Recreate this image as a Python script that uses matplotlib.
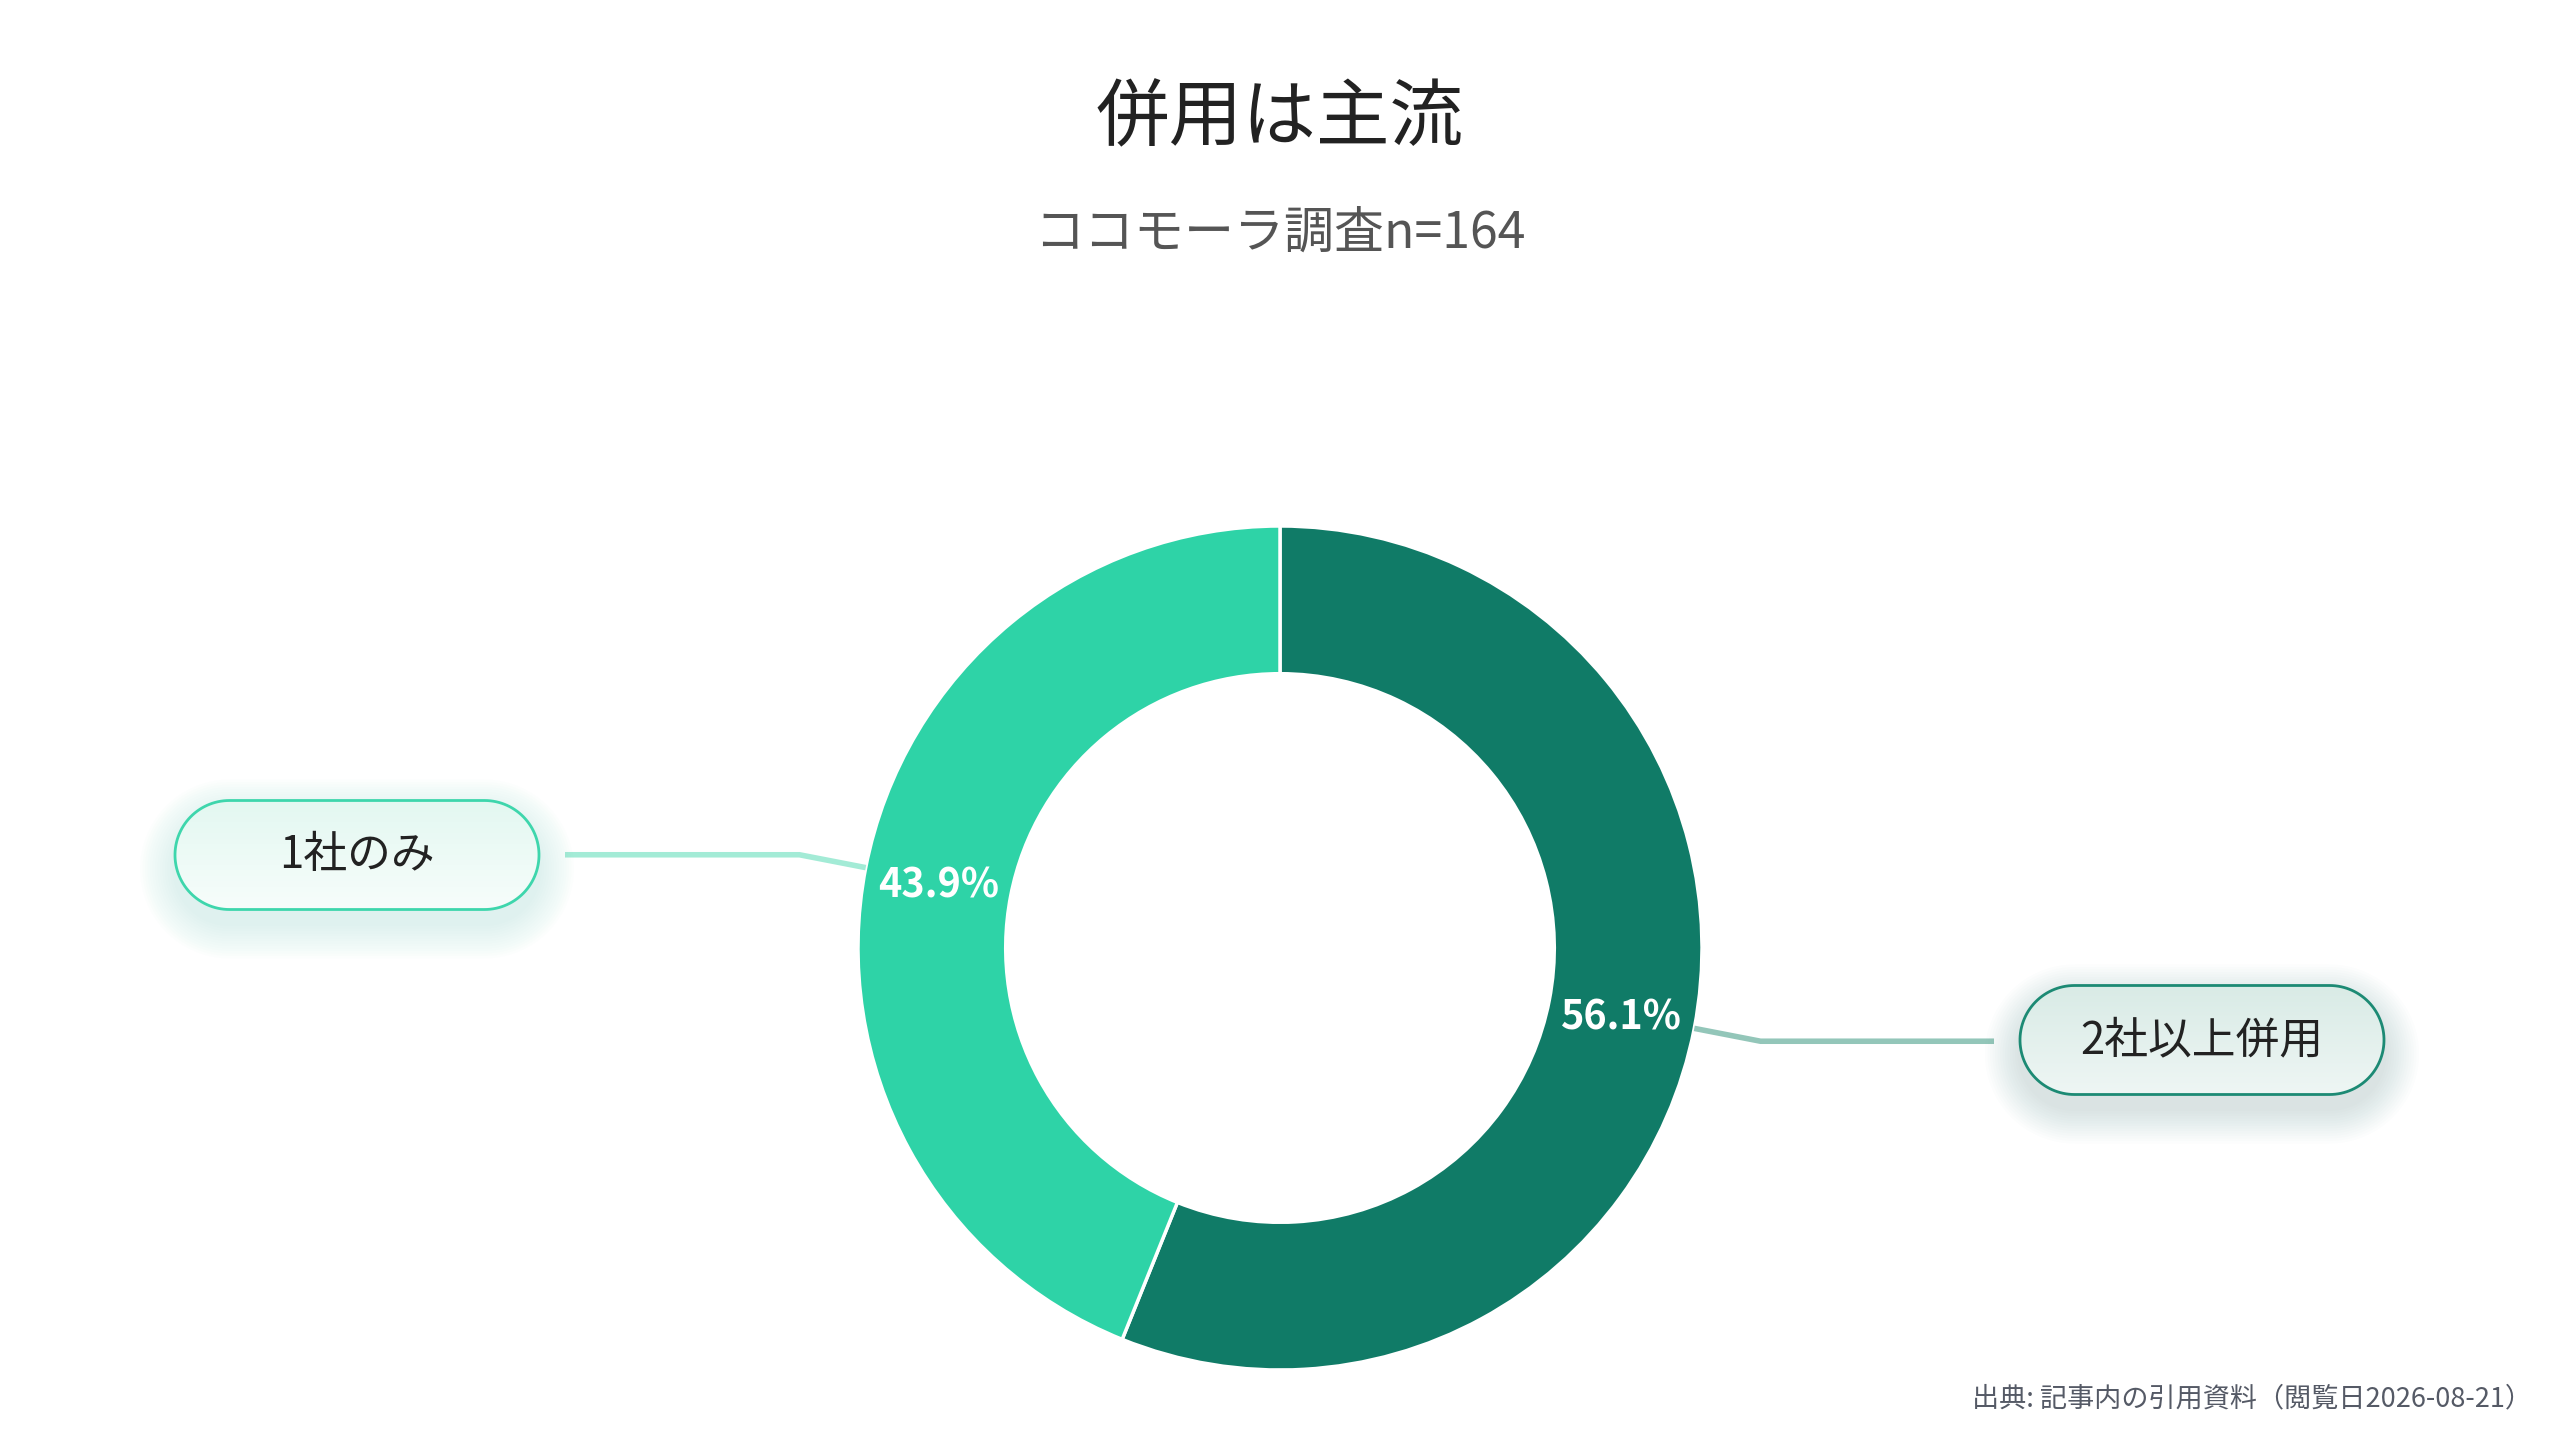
import matplotlib
matplotlib.use("Agg")
import matplotlib.pyplot as plt
import numpy as np
from matplotlib.patches import Polygon
from matplotlib.colors import LinearSegmentedColormap

plt.rcParams['font.family'] = ['Noto Sans CJK JP', 'DejaVu Sans']

# ---- data ----
categories = ["2社以上併用", "1社のみ"]
values = [56.1, 43.9]
colors = ["#107B67", "#2ED3A7"]
title = "併用は主流"
subtitle = "ココモーラ調査n=164"
source = "出典: 記事内の引用資料（閲覧日2026-08-21）"

W, H = 2560, 1440
fig = plt.figure(figsize=(25.6, 14.4), dpi=100)
fig.patch.set_facecolor("white")
ax = fig.add_axes([0, 0, 1, 1])

cx, cy = 1280, H - 948
R = 422
ring = 0.35

wedges, texts, autotexts = ax.pie(
    values, colors=colors, startangle=90, counterclock=False,
    center=(cx, cy), radius=R,
    wedgeprops=dict(width=R * ring, edgecolor="white", linewidth=2.5),
    autopct="%1.1f%%", pctdistance=1 - ring / 2,
    textprops=dict(color="white", fontsize=28.5, fontweight="bold"),
)
for t in autotexts:
    x, y = t.get_position()
    t.set_position((x, y - 4))
ax.set_xlim(0, W)
ax.set_ylim(0, H)
ax.set_aspect("equal")
ax.axis("off")


def pill(xc, yc, w, h, n=60):
    r = h / 2
    t1 = np.linspace(-np.pi / 2, np.pi / 2, n)
    right = np.c_[xc + w / 2 - r + r * np.cos(t1), yc + r * np.sin(t1)]
    t2 = np.linspace(np.pi / 2, 3 * np.pi / 2, n)
    left = np.c_[xc - w / 2 + r + r * np.cos(t2), yc + r * np.sin(t2)]
    return np.vstack([right, left])


box_pos = {"2社以上併用": (2202, H - 1040), "1社のみ": (357, H - 855)}
box_w, box_h = 364, 109
styles = {
    "2社以上併用": dict(edge="#1C8A74", top="#eef6f4", bot="#d9ebe6", line="#93C6B9", glow="#7fa89c"),
    "1社のみ": dict(edge="#3ED6AC", top="#f7fdfb", bot="#e3f8f1", line="#A3EBD6", glow="#8fe3c9"),
}

for w, cat, v in zip(wedges, categories, values):
    ang = np.deg2rad((w.theta1 + w.theta2) / 2)
    st = styles[cat]
    bx, by = box_pos[cat]
    x0, y0 = cx + R * np.cos(ang), cy + R * np.sin(ang)
    x1, y1 = cx + 1.16 * R * np.cos(ang), cy + 1.16 * R * np.sin(ang)
    side = 1 if np.cos(ang) > 0 else -1
    x2 = bx - side * (box_w / 2 + 26)
    ax.plot([x0, x1, x2], [y0, y1, y1], color=st["line"], lw=4, solid_capstyle="butt", zorder=1)

    # soft shadow glow
    for k in range(14, 0, -1):
        g = Polygon(pill(bx, by - 14, box_w + k * 5, box_h + k * 5), closed=True,
                    facecolor=st["glow"], edgecolor="none", alpha=0.018, zorder=2)
        ax.add_patch(g)
    p = Polygon(pill(bx, by, box_w, box_h), closed=True,
                facecolor="none", edgecolor=st["edge"], linewidth=2, zorder=4)
    ax.add_patch(p)
    grad = np.linspace(0, 1, 64)[:, None]
    cm = LinearSegmentedColormap.from_list("g", [st["top"], st["bot"]])
    im = ax.imshow(grad, cmap=cm, extent=(bx - box_w / 2, bx + box_w / 2, by + box_h / 2, by - box_h / 2),
                   aspect="auto", zorder=3, origin="upper")
    im.set_clip_path(p)
    ax.text(bx, by, cat, ha="center", va="center", fontsize=31.5, color="#222222", zorder=5)

ax.set_xlim(0, W)
ax.set_ylim(0, H)

fig.text(0.5, 1 - 120 / H, title, ha="center", va="center", fontsize=53, color="#222222")
fig.text(0.5, 1 - 234 / H, subtitle, ha="center", va="center", fontsize=36, color="#555555")
fig.text(2532 / W, 1 - 1399 / H, source, ha="right", va="center", fontsize=19.5, color="#555a66")

fig.savefig("out.png", dpi=100, facecolor="white")
